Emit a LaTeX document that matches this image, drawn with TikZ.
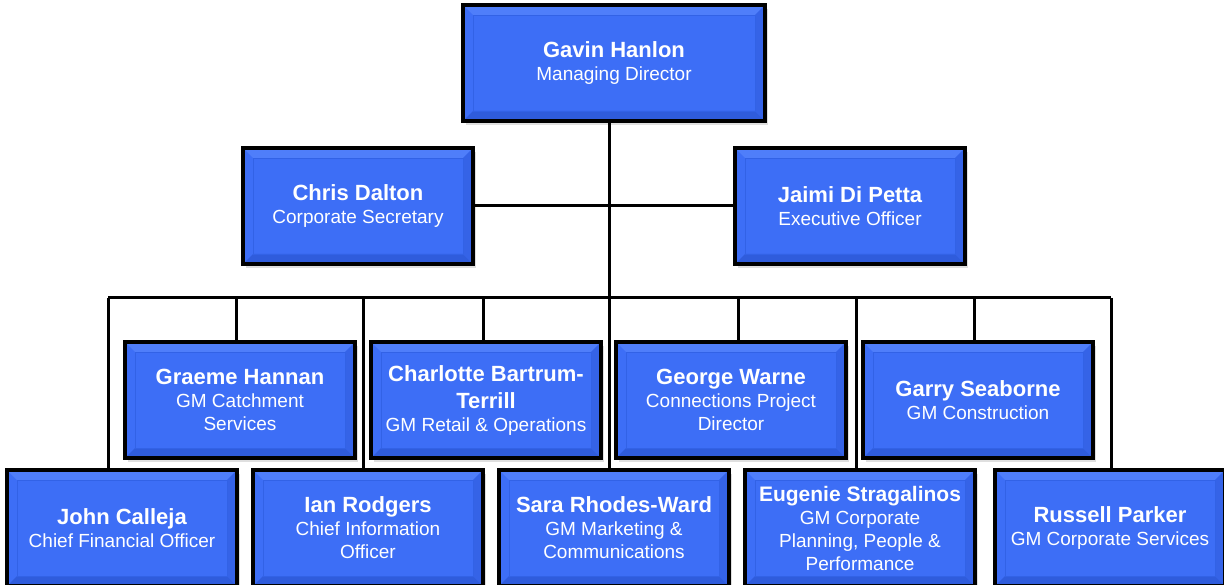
\documentclass[tikz,border=0pt]{standalone}
\usepackage{fontspec}
\setmainfont{Liberation Sans}
\usetikzlibrary{shadows}

\definecolor{boxblue}{HTML}{3D6EF6}
\definecolor{bevellight}{HTML}{4F7EFA}
\definecolor{beveldark}{HTML}{2F5CDC}
\definecolor{bevelline}{HTML}{3262E6}

\newcommand{\nm}[1]{{\bfseries\fontsize{22}{24}\selectfont #1}}
\newcommand{\nmsmall}[1]{{\bfseries\fontsize{21}{23}\selectfont #1}}

\tikzset{
  orgbox/.style={draw=black, line width=3.5pt, fill=boxblue, text=white,
    minimum width=230pt, minimum height=116pt, inner sep=0pt, align=center,
    font=\fontsize{19}{23}\selectfont,
    drop shadow={shadow xshift=3pt, shadow yshift=-4pt, opacity=.25},
    path picture={
      \fill[bevellight] (path picture bounding box.north west)
        -- (path picture bounding box.north east)
        -- ([shift={(-10pt,-10pt)}]path picture bounding box.north east)
        -- ([shift={(10pt,-10pt)}]path picture bounding box.north west) -- cycle;
      \fill[beveldark] (path picture bounding box.south west)
        -- (path picture bounding box.south east)
        -- ([shift={(-10pt,10pt)}]path picture bounding box.south east)
        -- ([shift={(10pt,10pt)}]path picture bounding box.south west) -- cycle;
      \fill[beveldark!60!boxblue] (path picture bounding box.north east)
        -- (path picture bounding box.south east)
        -- ([shift={(-10pt,10pt)}]path picture bounding box.south east)
        -- ([shift={(-10pt,-10pt)}]path picture bounding box.north east) -- cycle;
      \draw[bevelline, line width=0.8pt]
        ([shift={(10pt,-10pt)}]path picture bounding box.north west)
        rectangle ([shift={(-10pt,10pt)}]path picture bounding box.south east);
    }},
  link/.style={line width=3pt}
}

\begin{document}
\begin{tikzpicture}[x=1pt, y=-1pt]
  \useasboundingbox (0,0) rectangle (1224,585);

  % Geschaeftsleitung
  \node[orgbox, minimum width=302pt] (gavin) at (614,63)
    {\nm{Gavin Hanlon}\\Managing Director};
  \node[orgbox] (chris) at (358,206) {\nm{Chris Dalton}\\Corporate Secretary};
  \node[orgbox] (jaimi) at (850,206) {\nm{Jaimi Di Petta}\\Executive Officer};

  % obere Reihe
  \node[orgbox] (graeme) at (240,400) {\nm{Graeme Hannan}\\GM Catchment\\Services};
  \node[orgbox] (charlotte) at (486,400)
    {\nm{Charlotte Bartrum-}\\[4pt]\nm{Terrill}\\GM Retail \& Operations};
  \node[orgbox] (george) at (731,400)
    {\nm{George Warne}\\Connections Project\\Director};
  \node[orgbox] (garry) at (978,400) {\nm{Garry Seaborne}\\GM Construction};

  % untere Reihe
  \node[orgbox] (john) at (122,528) {\nm{John Calleja}\\Chief Financial Officer};
  \node[orgbox] (ian) at (368,528) {\nm{Ian Rodgers}\\Chief Information\\Officer};
  \node[orgbox] (sara) at (614,528)
    {\nm{Sara Rhodes-Ward}\\GM Marketing \&\\Communications};
  \node[orgbox] (eugenie) at (860,528)
    {\nmsmall{Eugenie Stragalinos}\\GM Corporate\\Planning, People \&\\Performance};
  \node[orgbox] (russell) at (1110,528)
    {\nm{Russell Parker}\\GM Corporate Services};

  % Verbindungen
  \coordinate (trunk) at (609,298);
  \coordinate (bus-l) at (108,298);
  \coordinate (bus-r) at (1111,298);
  \draw[link] (trunk |- gavin.south) -- (trunk |- sara.north);
  \draw[link] (chris.east) -- (jaimi.west);
  \draw[link] (bus-l) -- (bus-r);
  \foreach \x/\t in {236/graeme, 483/charlotte, 738/george, 974/garry,
                     108/john, 363/ian, 856/eugenie, 1111/russell}
    \draw[link] (\x,298) -- (\x,298 |- \t.north);
\end{tikzpicture}
\end{document}
